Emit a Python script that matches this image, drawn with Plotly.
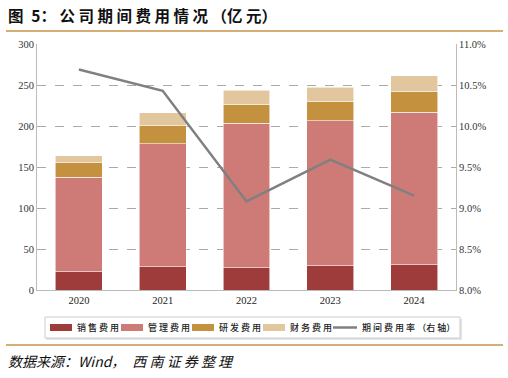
import plotly.graph_objects as go

years = ["2020", "2021", "2022", "2023", "2024"]
sales = [22.4, 28.1, 27.3, 29.7, 30.6]
mgmt = [115.4, 150.5, 175.8, 177.0, 185.9]
rnd = [17.6, 21.6, 23.2, 22.9, 25.3]
fin = [8.6, 15.8, 17.2, 17.9, 19.2]
rate = [10.69, 10.43, 9.08, 9.59, 9.15]

def spaced(s):
    return " ".join(list(s))

names = [spaced("销售费用"), spaced("管理费用"), spaced("研发费用"), spaced("财务费用")]
line_name = spaced("期间费用率") + " （" + spaced("右轴") + "）"
colors = ["#9E3C3C", "#CE7A77", "#C4913F", "#E2C69D"]
line_color = "#808080"

W, H = 508, 378
L, R, T, B = 37, 456, 44, 290
def px(x):
    return (x - L) / (R - L)
def py(y):
    return (B - y) / (B - T)

fig = go.Figure()
for vals, nm, c in zip([sales, mgmt, rnd, fin], names, colors):
    fig.add_trace(go.Bar(x=years, y=vals, name=nm, showlegend=False,
                         marker=dict(color=c, line=dict(color="rgba(255,255,255,0.7)", width=0.8)), width=0.56))

fig.add_trace(go.Scatter(x=years, y=rate, name=line_name, yaxis="y2", mode="lines", showlegend=False,
                         line=dict(color=line_color, width=2.5)))

serif = "Liberation Serif, Times New Roman, serif"
cjk = "Noto Sans CJK SC"

shapes = [
    dict(type="line", xref="paper", yref="paper", x0=px(6), x1=px(503), y0=py(31), y1=py(31),
         line=dict(color="#C8924A", width=1.5)),
    dict(type="line", xref="paper", yref="paper", x0=px(6), x1=px(503), y0=py(345), y1=py(345),
         line=dict(color="#C8924A", width=1.5)),
    # legend box shadow and border
    dict(type="rect", xref="paper", yref="paper", x0=px(46), x1=px(462), y0=py(319), y1=py(340),
         line=dict(width=0), fillcolor="#E4E4E4", layer="below"),
    dict(type="rect", xref="paper", yref="paper", x0=px(45), x1=px(460), y0=py(317), y1=py(338),
         line=dict(color="#CCCCCC", width=1), fillcolor="white", layer="below"),
]
annotations = [
    dict(text="图\u20025： " + spaced("公司期间费用情况") + " （" + spaced("亿元") + "）",
         xref="paper", yref="paper", x=px(6), y=py(15), xanchor="left", yanchor="middle", showarrow=False,
         font=dict(family=cjk, size=15.5, color="#111111", weight=700)),
    dict(text="<i>数据来源：Wind，\u3000" + spaced("西南证券整理") + "</i>", xref="paper", yref="paper",
         x=px(6), y=py(361), xanchor="left", yanchor="middle", showarrow=False,
         font=dict(family=cjk, size=14, color="#111111")),
]

sw_x = [50, 121, 192, 263]
for x0, c, nm in zip(sw_x, colors, names):
    shapes.append(dict(type="rect", xref="paper", yref="paper", x0=px(x0), x1=px(x0 + 22),
                       y0=py(324), y1=py(331), line=dict(width=0), fillcolor=c))
    annotations.append(dict(text=nm, xref="paper", yref="paper", x=px(x0 + 25), y=py(327.5),
                            xanchor="left", yanchor="middle", showarrow=False,
                            font=dict(family=cjk, size=9, color="#222222", weight=500)))
shapes.append(dict(type="line", xref="paper", yref="paper", x0=px(333), x1=px(357), y0=py(327.5), y1=py(327.5),
                   line=dict(color=line_color, width=2.5)))
annotations.append(dict(text=line_name, xref="paper", yref="paper", x=px(360), y=py(327.5),
                        xanchor="left", yanchor="middle", showarrow=False,
                        font=dict(family=cjk, size=9, color="#222222", weight=500)))

fig.update_layout(
    width=W, height=H,
    margin=dict(l=L, r=W - R, t=T, b=H - B, autoexpand=False),
    barmode="stack",
    plot_bgcolor="white", paper_bgcolor="white",
    showlegend=False,
    xaxis=dict(showline=True, linecolor="#BBBBBB", linewidth=1, ticks="",
               tickfont=dict(family=serif, size=10.5, color="#222222"), showgrid=False),
    yaxis=dict(range=[0, 300], dtick=50, showline=True, linecolor="#BBBBBB", linewidth=1,
               showgrid=True, gridcolor="#AAAAAA", griddash="dash", gridwidth=1,
               tickfont=dict(family=serif, size=10.5, color="#333333"), zeroline=False),
    yaxis2=dict(range=[8, 11], dtick=0.5, overlaying="y", side="right", tickformat=".1f", ticksuffix="%",
                showline=True, linecolor="#BBBBBB", linewidth=1, showgrid=False, zeroline=False,
                tickfont=dict(family=serif, size=10.5, color="#333333")),
    shapes=shapes,
    annotations=annotations,
)

fig.write_html("out.html", config={"displayModeBar": False},
               post_script="document.body.style.margin='0';document.body.style.overflow='hidden';")
